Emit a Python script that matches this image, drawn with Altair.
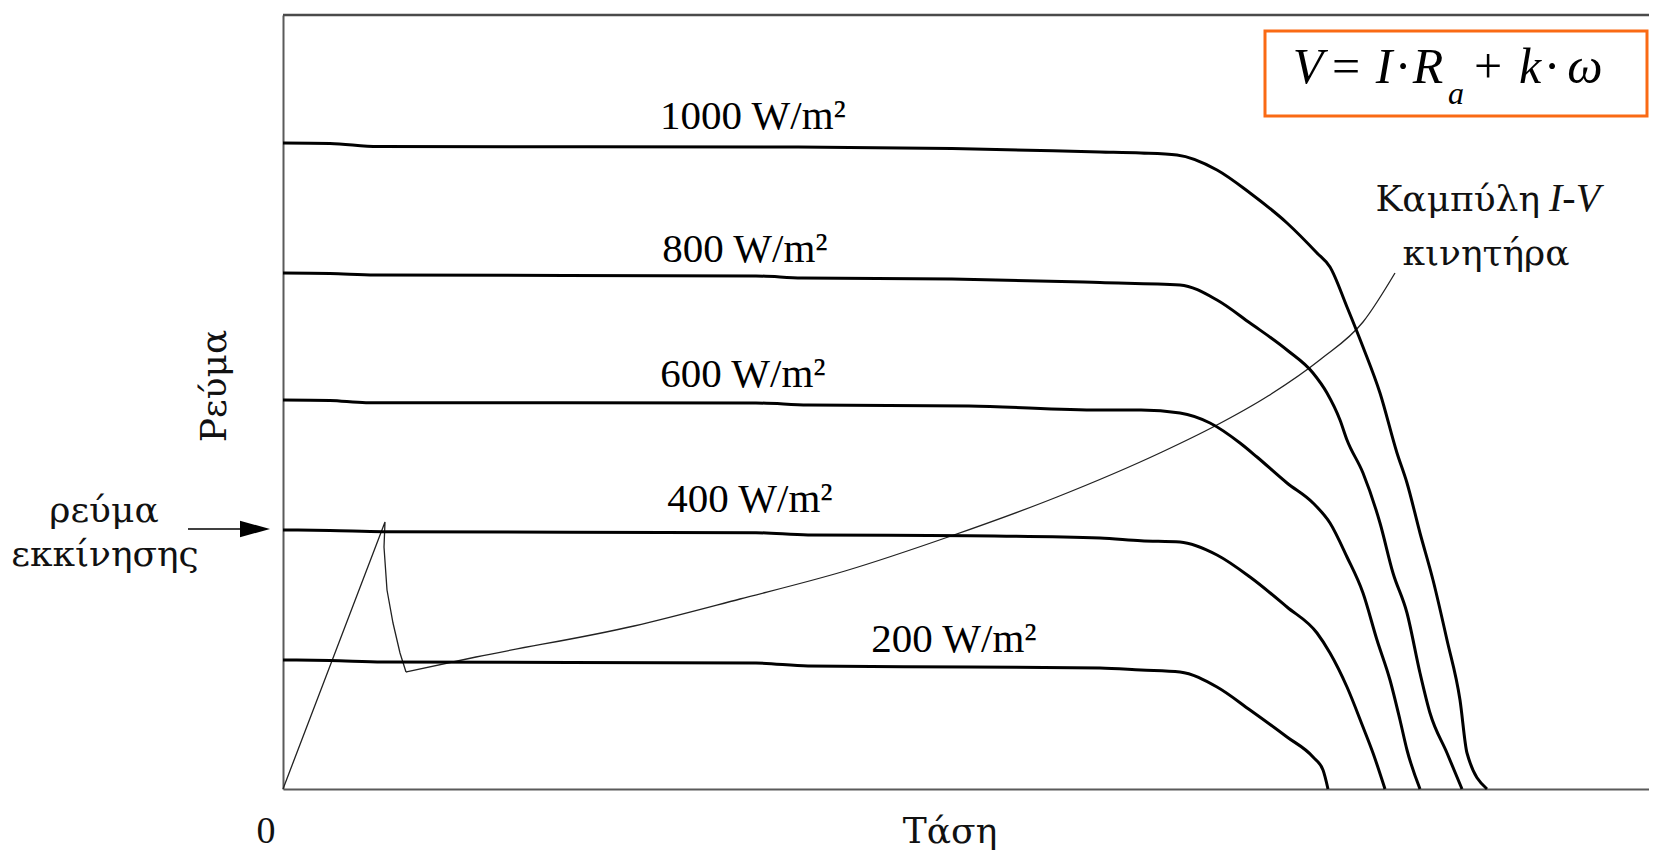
import altair as alt
import pandas as pd

W, H = 1366, 774  # plot area size (voltage units x current units)

# ---- PV I-V curves ----
v_1000 = [0, 47, 95, 514, 669, 817, 858, 894, 934, 967, 1004, 1034, 1047, 1064, 1080, 1097, 1114, 1124, 1137, 1150, 1164, 1177, 1184, 1204]
i_1000 = [646, 645.5, 642.5, 642, 640.5, 637, 636, 634, 619, 596, 566, 536, 522, 482, 442, 396, 336, 306, 256, 209, 149, 89, 36, 0]

v_800 = [0, 47, 92, 473, 519, 669, 801, 817, 897, 934, 967, 1004, 1030, 1044, 1057, 1064, 1080, 1097, 1110, 1124, 1137, 1147, 1164, 1179]
i_800 = [516, 515.5, 514, 513, 511, 510, 507, 506.5, 504, 489, 466, 439, 416, 396, 369, 349, 316, 266, 216, 176, 116, 76, 36, 0]

v_600 = [0, 47, 83, 473, 525, 686, 817, 858, 897, 927, 957, 974, 1004, 1030, 1047, 1064, 1080, 1094, 1107, 1117, 1124, 1137]
i_600 = [389, 388.5, 386.3, 386, 384, 383, 379, 379, 376, 366, 346, 332, 306, 286, 266, 232, 196, 149, 109, 69, 39, 0]

v_400 = [0, 47, 100, 473, 525, 686, 817, 858, 897, 934, 967, 1004, 1034, 1047, 1064, 1080, 1090, 1102]
i_400 = [259, 258.5, 257.3, 256.3, 254, 253.3, 251, 248.3, 247, 234, 212, 182, 156, 136, 102, 62, 36, 0]

v_200 = [0, 47, 100, 473, 525, 686, 817, 858, 897, 934, 967, 1004, 1030, 1040, 1045]
i_200 = [129, 128.5, 127, 126, 123, 122, 121, 119, 117, 102, 79, 52, 32, 19, 0]

curve_names = ["1000", "800", "600", "400", "200"]
curve_v = [v_1000, v_800, v_600, v_400, v_200]
curve_i = [i_1000, i_800, i_600, i_400, i_200]

# ---- motor I-V curve (thin line): starting spike, then the rising load curve ----
spike_v = [0, 102, 101, 104, 110, 117, 123]
spike_i = [0, 267, 242, 199, 166, 136, 117]
load_v = [123, 193, 351, 457, 562, 668, 774, 879, 932, 985, 1038, 1080, 1112]
load_i = [117, 132, 163, 190, 218, 253, 292, 337, 363, 393, 430, 467, 516]

# ---- labels ----
curve_labels = ["1000 W/m²", "800 W/m²", "600 W/m²", "400 W/m²", "200 W/m²"]
curve_label_x = [470, 462, 460, 467, 671]
curve_label_y = [660, 527, 402, 277, 137]

greek_texts = ["κινητήρα", "ρεύμα", "εκκίνησης", "Τάση"]
greek_x = [1203, -179, -178, 667]
greek_y = [524, 267, 223, -54]

zero_text, zero_x, zero_y = ["0"], [-17], [-54]

# formula tokens  V = I · R_a + k · ω
f_tokens = ["V", "=", "I", "·", "R", "a", "+", "k", "·", "ω"]
f_x = [1025, 1063, 1101, 1120, 1145, 1173, 1205, 1247, 1269, 1302]
f_y = [706, 706, 706, 706, 706, 685, 706, 706, 706, 706]
f_italic = [True, False, True, False, True, True, False, True, False, True]
f_size = [50, 50, 50, 50, 50, 32, 50, 50, 50, 50]

# formula box corners
box_x, box_x2 = [982], [1364]
box_y, box_y2 = [673], [758]

# arrow
arrow_x, arrow_x2, arrow_y = [-95], [-40], [260]
arrow_head_x = [-28]

# ---------------------------------------------------------------
rows = []
for name, vs, cs in zip(curve_names, curve_v, curve_i):
    for k, (v, c) in enumerate(zip(vs, cs)):
        rows.append({"series": name, "i": k, "x": v, "y": c})
curves_df = pd.DataFrame(rows)
spike_df = pd.DataFrame({"i": range(len(spike_v)), "x": spike_v, "y": spike_i})
load_df = pd.DataFrame({"i": range(len(load_v)), "x": load_v, "y": load_i})
labels_df = pd.DataFrame({"x": curve_label_x, "y": curve_label_y, "t": curve_labels})
greek_df = pd.DataFrame({"x": greek_x, "y": greek_y, "t": greek_texts})
zero_df = pd.DataFrame({"x": zero_x, "y": zero_y, "t": zero_text})
formula_df = pd.DataFrame({"x": f_x, "y": f_y, "t": f_tokens, "it": f_italic, "s": f_size})
box_df = pd.DataFrame({"x": box_x, "x2": box_x2, "y": box_y, "y2": box_y2})
arrow_df = pd.DataFrame({"x": arrow_x, "x2": arrow_x2, "y": arrow_y})
head_df = pd.DataFrame({"x": arrow_head_x, "y": arrow_y})
frame_df = pd.DataFrame({"x": [0], "x2": [W], "y": [H]})

xs = alt.Scale(domain=[0, W], nice=False, zero=False)
ys = alt.Scale(domain=[0, H], nice=False, zero=False)
x_axis = alt.Axis(title=None, labels=False, ticks=False, grid=False, domainColor="#5a5a5a", domainWidth=2)
y_axis = alt.Axis(title=None, labels=False, ticks=False, grid=False, domainColor="#5a5a5a", domainWidth=2)
X = lambda f="x": alt.X(f"{f}:Q", scale=xs, axis=x_axis)
Y = lambda f="y": alt.Y(f"{f}:Q", scale=ys, axis=y_axis)

SERIF = "Liberation Serif, DejaVu Serif, serif"
GREEK = "DejaVu Serif, serif"

curves = alt.Chart(curves_df).mark_line(color="black", strokeWidth=3, interpolate="monotone").encode(
    x=X(), y=Y(), detail="series:N", order="i:Q")

spike = alt.Chart(spike_df).mark_line(color="#222222", strokeWidth=1.3).encode(
    x=X(), y=Y(), order="i:Q")
load = alt.Chart(load_df).mark_line(color="#222222", strokeWidth=1.3, interpolate="monotone").encode(
    x=X(), y=Y(), order="i:Q")

frame_top = alt.Chart(frame_df).mark_rule(color="#4a4a4a", strokeWidth=2.5).encode(
    x=X(), x2="x2:Q", y=Y())

labels = alt.Chart(labels_df).mark_text(font=SERIF, fontSize=41, color="black", align="center", baseline="alphabetic").encode(
    x=X(), y=Y(), text="t:N")

greek = alt.Chart(greek_df).mark_text(font=GREEK, fontSize=36, color="#111111", align="center", baseline="alphabetic").encode(
    x=X(), y=Y(), text="t:N")

zero = alt.Chart(zero_df).mark_text(font=SERIF, fontSize=38, color="#111111", align="center", baseline="alphabetic").encode(
    x=X(), y=Y(), text="t:N")

kamp = alt.Chart(pd.DataFrame({"x": [1257], "y": [578], "t": ["Καμπύλη"]})).mark_text(
    font=GREEK, fontSize=36, color="#111111", align="right", baseline="alphabetic").encode(x=X(), y=Y(), text="t:N")
iv = alt.Chart(pd.DataFrame({"x": [1266], "y": [578], "t": ["I-V"]})).mark_text(
    font=SERIF, fontSize=40, fontStyle="italic", color="#111111", align="left", baseline="alphabetic").encode(x=X(), y=Y(), text="t:N")

ylabel = alt.Chart(pd.DataFrame({"x": [-57], "y": [403], "t": ["Ρεύμα"]})).mark_text(
    font=GREEK, fontSize=36, color="#111111", align="center", baseline="alphabetic", angle=270).encode(x=X(), y=Y(), text="t:N")

box = alt.Chart(box_df).mark_rect(fill="white", stroke="#fa6a14", strokeWidth=3).encode(
    x=X(), x2="x2:Q", y=Y(), y2="y2:Q")

f_it = alt.Chart(formula_df).transform_filter("datum.it").mark_text(
    font=SERIF, fontStyle="italic", color="black", align="center", baseline="alphabetic").encode(
    x=X(), y=Y(), text="t:N", size=alt.Size("s:Q", scale=None, legend=None))
f_up = alt.Chart(formula_df).transform_filter("!datum.it").mark_text(
    font=SERIF, color="black", align="center", baseline="alphabetic").encode(
    x=X(), y=Y(), text="t:N", size=alt.Size("s:Q", scale=None, legend=None))

arrow = alt.Chart(arrow_df).mark_rule(color="black", strokeWidth=1.6).encode(x=X(), x2="x2:Q", y=Y())
head = alt.Chart(head_df).mark_point(shape="M-1,-0.55L1,0L-1,0.55Z", size=900, filled=True, color="black", opacity=1).encode(
    x=X(), y=Y())

chart = alt.layer(
    frame_top, spike, load, curves, labels, greek, zero, kamp, iv, ylabel, box, f_it, f_up, arrow, head
).properties(
    width=W, height=H,
    autosize=alt.AutoSizeParams(type="none"),
    padding={"left": 275, "top": 7, "right": 0, "bottom": 62},
    background="white",
).configure_view(stroke=None)

chart.save("out.html", embed_options={"renderer": "svg", "actions": False})
